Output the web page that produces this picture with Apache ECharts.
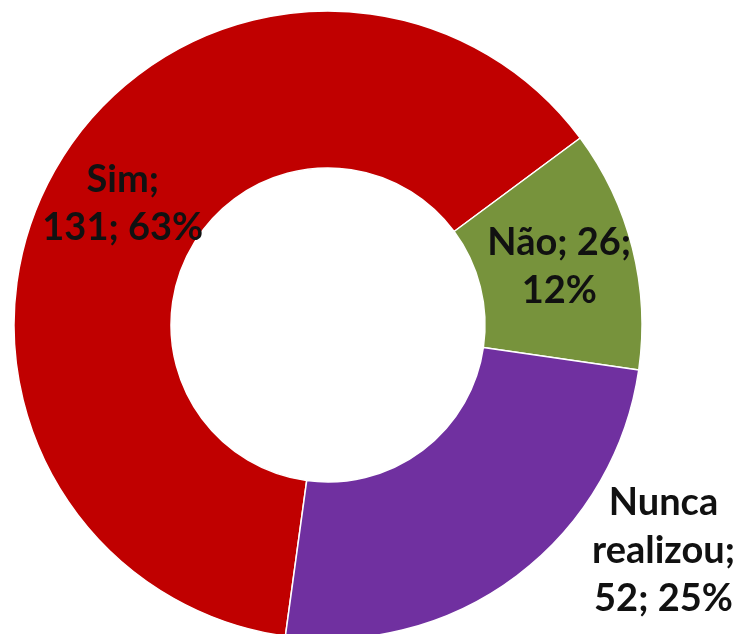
<!DOCTYPE html>
<html>
<head>
<meta charset="utf-8">
<script src="https://cdn.jsdelivr.net/npm/echarts@6/dist/echarts.min.js"></script>
<style>
  html, body { margin: 0; padding: 0; background: #fff; }
  #chart { width: 747px; height: 634px; }
</style>
</head>
<body>
<div id="chart"></div>
<script>
const categories = ['Sim', 'Não', 'Nunca realizou']
const values = [131, 26, 52]
const colors = ['#C00000', '#77933C', '#7030A0']
// how each label wraps in the original
const labelFormats = ['{b};\n{c}; {d}%', '{b}; {c};\n{d}%', 'Nunca\nrealizou;\n{c}; {d}%']

const chart = echarts.init(document.getElementById('chart'))

chart.setOption({
  animation: false,
  series: [
    {
      type: 'pie',
      center: [328, 325],
      radius: [157, 314],
      startAngle: 262.2,
      clockwise: true,
      percentPrecision: 0,
      avoidLabelOverlap: false,
      itemStyle: {
        borderColor: '#fff',
        borderWidth: 1.5,
      },
      label: {
        show: true,
        position: 'inside',
        color: '#111',
        fontFamily: 'Lato',
        fontWeight: 'bold',
        fontSize: 38,
        lineHeight: 48,
        align: 'center',
      },
      labelLine: { show: false },
      emphasis: { disabled: true },
      data: categories.map((name, i) => ({
        name: name,
        value: values[i],
        itemStyle: { color: colors[i] },
        label: { formatter: labelFormats[i] },
      })),
      labelLayout(params) {
        // Excel pushed the last label outside the ring, lower right
        if (params.dataIndex === 2) {
          return { dx: 192, dy: 35 }
        }
        return {}
      },
    },
  ],
})
</script>
</body>
</html>
